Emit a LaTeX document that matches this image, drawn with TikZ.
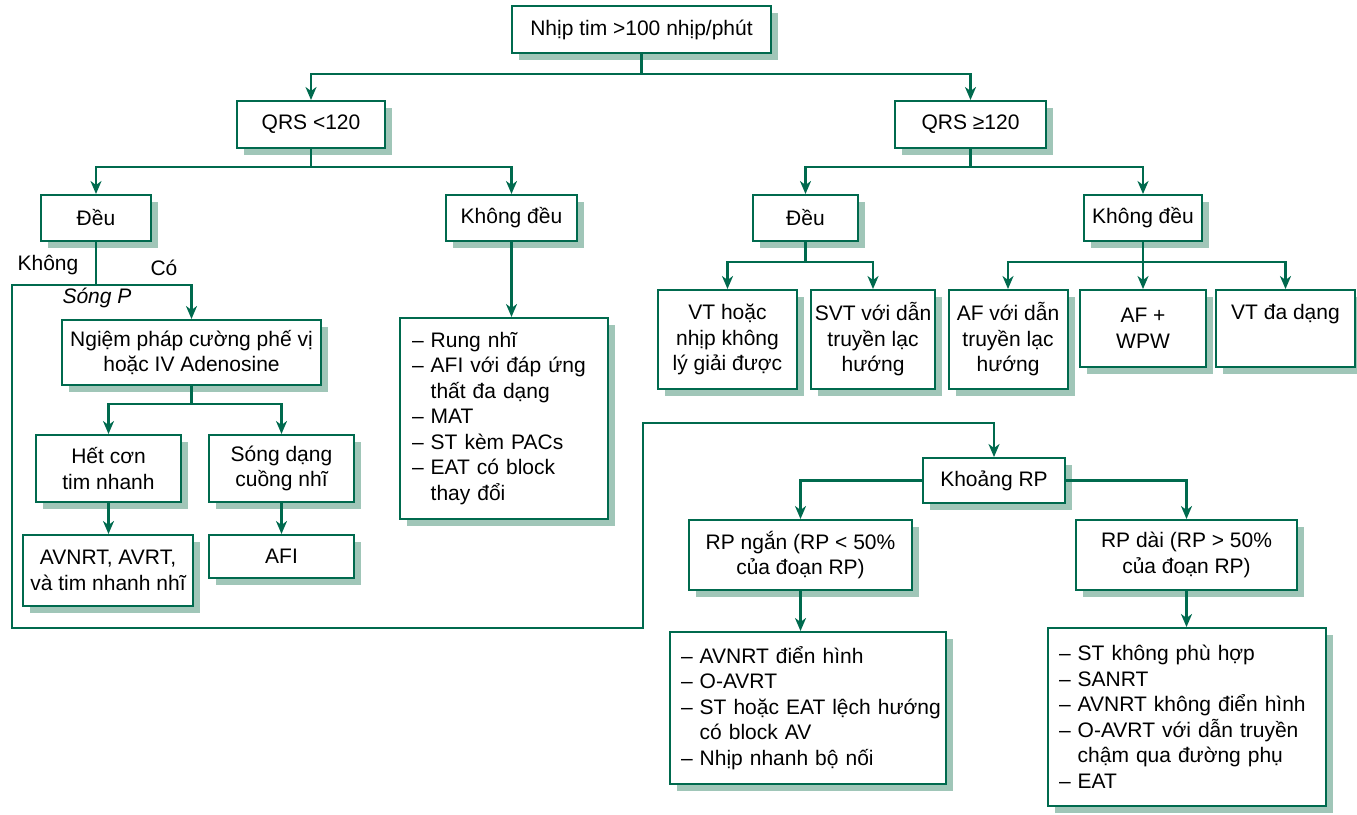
\documentclass[tikz,border=0pt]{standalone}
\usepackage{fontspec}
\setmainfont{Liberation Sans}
\usetikzlibrary{arrows.meta,shadows}
\definecolor{lineGreen}{RGB}{0,106,78}
\definecolor{shadeGreen}{RGB}{160,198,184}
\newcommand\contline{\phantom{– }}
\tikzset{
  txt/.style={font=\fontsize{21pt}{25.5pt}\selectfont, text=black},
  box/.style={txt, draw=lineGreen, line width=2pt, fill=white, align=center,
    inner sep=4pt,
    general shadow={fill=shadeGreen, shadow xshift=7pt, shadow yshift=-7pt}},
  listbox/.style={box, align=left, inner xsep=11pt},
  wire/.style={draw=lineGreen, line width=2.5pt},
  arrow/.style={wire, -{Stealth[length=13pt,width=11pt,inset=4pt]}},
  lbl/.style={txt, inner sep=0pt}
}
\begin{document}
\begin{tikzpicture}[x=1pt,y=-1pt]
\useasboundingbox (0,0) rectangle (1357,814);

% top level
\node[box, minimum width=259, minimum height=47] (top) at (641.5,29.5) {Nhịp tim >100 nhịp/phút};
\node[box, minimum width=148, minimum height=47] (qrsL) at (311,124.5) {QRS <120};
\node[box, minimum width=151, minimum height=47] (qrsR) at (970.5,124.5) {QRS ≥120};

% narrow QRS branch
\node[box, minimum width=110, minimum height=46] (deuL) at (96,218) {Đều};
\node[box, minimum width=131, minimum height=46] (kdL) at (511.5,218) {Không đều};
\node[box, minimum width=259, minimum height=65] (vagal) at (191.5,352.5) {Ngiệm pháp cường phế vị\\hoặc IV Adenosine};
\node[box, minimum width=145, minimum height=67] (stop) at (108.5,468.5) {Hết cơn\\tim nhanh};
\node[box, minimum width=145, minimum height=67] (flutw) at (281.5,468.5) {Sóng dạng\\cuồng nhĩ};
\node[box, minimum width=170, minimum height=71] (avnrt) at (108,570.5) {AVNRT, AVRT,\\và tim nhanh nhĩ};
\node[box, minimum width=145, minimum height=43] (afl) at (281.5,556.5) {AFI};
\node[listbox, minimum width=208, minimum height=201, text width=184] (irrList) at (504,418.5)
  {– Rung nhĩ\\– AFI với đáp ứng\\\contline thất đa dạng\\– MAT\\– ST kèm PACs\\– EAT có block\\\contline thay đổi};

% wide QRS branch
\node[box, minimum width=105, minimum height=46] (deuR) at (805.5,218) {Đều};
\node[box, minimum width=118, minimum height=46] (kdR) at (1143,218) {Không đều};
\node[box, minimum width=139, minimum height=99] (vt) at (727.5,339.5) {VT hoặc\\nhịp không\\lý giải được};
\node[box, minimum width=124, minimum height=99] (svt) at (873,339.5) {SVT với dẫn\\truyền lạc\\hướng};
\node[box, minimum width=119, minimum height=99] (afab) at (1008,339.5) {AF với dẫn\\truyền lạc\\hướng};
\node[box, minimum width=126, minimum height=77] (afwpw) at (1143,328.5) {AF +\\WPW};
\node[box, minimum width=139, minimum height=77, align=center] (pvt) at (1285.5,328.5) {VT đa dạng\\\strut};

% RP interval
\node[box, minimum width=142, minimum height=45] (rp) at (994,480.5) {Khoảng RP};
\node[box, minimum width=223, minimum height=70] (rpS) at (800.5,555) {RP ngắn (RP < 50\%\\của đoạn RP)};
\node[box, minimum width=221, minimum height=70] (rpL) at (1186.5,555) {RP dài (RP > 50\%\\của đoạn RP)};
\node[listbox, minimum width=276, minimum height=152, text width=254] (shortList) at (808,708)
  {– AVNRT điển hình\\– O-AVRT\\\mbox{– ST hoặc EAT lệch hướng}\\\contline có block AV\\– Nhịp nhanh bộ nối};
\node[listbox, minimum width=278, minimum height=178, text width=256] (longList) at (1187,717)
  {– ST không phù hợp\\– SANRT\\– AVNRT không điển hình\\– O-AVRT với dẫn truyền\\\contline chậm qua đường phụ\\– EAT};

% branch labels
\node[lbl] (lblNo) at (48,265) {Không};
\node[lbl] (lblYes) at (164,268) {Có};
\node[lbl, font=\fontsize{21pt}{25.5pt}\selectfont\itshape] (lblP) at (97,298) {Sóng P};

% junction points
\coordinate (jTop) at (641.5,74);
\coordinate (jQL) at (311,167);
\coordinate (jQR) at (970.5,167);
\coordinate (jP) at (96,285);
\coordinate (jV) at (191.5,404);
\coordinate (jDR) at (805.5,262);
\coordinate (jKR) at (1143,262);
\coordinate (c1) at (12,285);
\coordinate (c2) at (12,628);
\coordinate (c3) at (643,628);
\coordinate (c4) at (643,423);

% connectors
\draw[wire] (top.south) -- (jTop);
\draw[arrow] (jTop) -| (qrsL.north);
\draw[arrow] (jTop) -| (qrsR.north);

\draw[wire] (qrsL.south) -- (jQL);
\draw[arrow] (jQL) -| (deuL.north);
\draw[arrow] (jQL) -| (kdL.north);
\draw[arrow] (kdL.south) -- (kdL.south |- irrList.north);

\draw[wire] (deuL.south) -- (jP);
\draw[arrow] (jP) -| (vagal.north);
\draw[arrow] (jP) -- (c1) -- (c2) -- (c3) -- (c4) -| (rp.north);

\draw[wire] (vagal.south) -- (jV);
\draw[arrow] (jV) -| (stop.north);
\draw[arrow] (jV) -| (flutw.north);
\draw[arrow] (stop.south) -- (stop.south |- avnrt.north);
\draw[arrow] (flutw.south) -- (afl.north);

\draw[wire] (qrsR.south) -- (jQR);
\draw[arrow] (jQR) -| (deuR.north);
\draw[arrow] (jQR) -| (kdR.north);

\draw[wire] (deuR.south) -- (jDR);
\draw[arrow] (jDR) -| (vt.north);
\draw[arrow] (jDR) -| (svt.north);
\draw[wire] (kdR.south) -- (jKR);
\draw[arrow] (jKR) -| (afab.north);
\draw[arrow] (jKR) -- (afwpw.north);
\draw[arrow] (jKR) -| (pvt.north);

\draw[arrow] (rp.west) -| (rpS.north);
\draw[arrow] (rp.east) -| (rpL.north);
\draw[arrow] (rpS.south) -- (rpS.south |- shortList.north);
\draw[arrow] (rpL.south) -- (rpL.south |- longList.north);
\end{tikzpicture}
\end{document}
